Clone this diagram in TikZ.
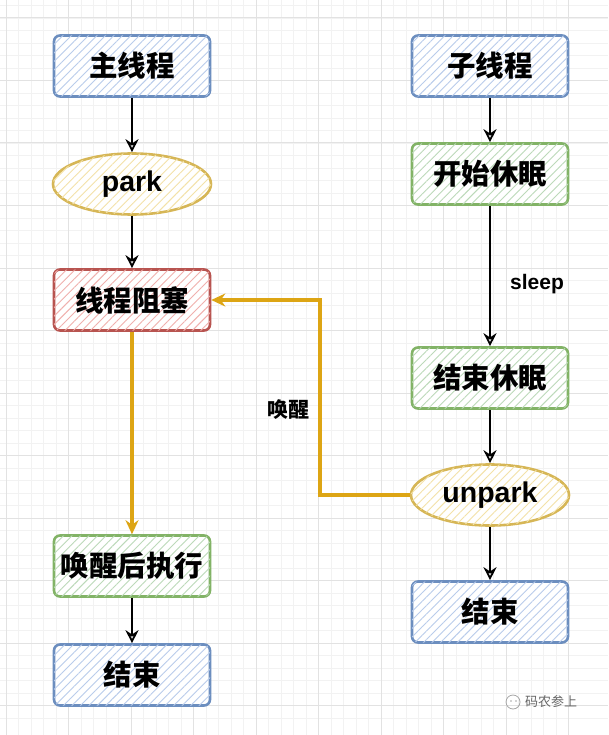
\documentclass[tikz,border=0pt]{standalone}
\usepackage{fontspec}
\setmainfont{Liberation Sans}
\newfontfamily\cjk{Noto Sans CJK SC}
\usetikzlibrary{shapes.geometric,patterns.meta,arrows.meta}
\definecolor{blues}{HTML}{6C8EBF}\definecolor{blueh}{HTML}{B9CCEB}
\definecolor{greens}{HTML}{82B366}\definecolor{greenh}{HTML}{BCD9B9}
\definecolor{reds}{HTML}{B85450}\definecolor{redh}{HTML}{F0B0AD}
\definecolor{yels}{HTML}{D6B656}\definecolor{yelh}{HTML}{F3E2A8}
\definecolor{orng}{RGB}{221,165,20}
\definecolor{gminor}{HTML}{F2F2F2}\definecolor{gmajor}{HTML}{E2E2E2}
\tikzset{
  x=1pt,y=-1pt,
  lbl/.style={font=\cjk\bfseries\fontsize{28.5}{32}\selectfont},
  boxbase/.style={rounded corners=6pt,line width=2.6pt,minimum width=156pt,minimum height=61pt,inner sep=0pt,lbl},
  bluebox/.style={boxbase,draw=blues,fill=white,postaction={pattern={Lines[angle=45,distance=6pt,line width=0.9pt]},pattern color=blueh}},
  greenbox/.style={boxbase,draw=greens,fill=white,postaction={pattern={Lines[angle=45,distance=6pt,line width=0.9pt]},pattern color=greenh}},
  redbox/.style={boxbase,draw=reds,fill=white,postaction={pattern={Lines[angle=45,distance=6pt,line width=0.9pt]},pattern color=redh}},
  yelell/.style={ellipse,line width=2.6pt,draw=yels,fill=white,minimum width=158pt,minimum height=61pt,inner sep=0pt,
    postaction={pattern={Lines[angle=45,distance=6pt,line width=0.9pt]},pattern color=yelh},
    font=\bfseries\fontsize{28.5}{32}\selectfont},
  blk/.style={line width=2.2pt,black,-{Stealth[open,length=13pt,width=13pt,line width=1.8pt]}},
  org/.style={line width=3.5pt,orng,-{Stealth[length=14pt,width=13pt]}},
  small/.style={font=\bfseries\fontsize{21}{24}\selectfont}
}
\begin{document}
\begin{tikzpicture}
\useasboundingbox (0,0) rectangle (608,735);
\fill[white] (0,0) rectangle (608,735);
% grid
\foreach \i in {0,...,48} {\draw[gminor,line width=0.7pt] ({6+12.5*\i-50},0) -- ({6+12.5*\i-50},735);}
\foreach \i in {0,...,60} {\draw[gminor,line width=0.7pt] (0,{18+12.5*\i-50}) -- (608,{18+12.5*\i-50});}
\foreach \i in {0,...,9} {\draw[gmajor,line width=1pt] ({6+62.5*\i},0) -- ({6+62.5*\i},735);}
\foreach \i in {0,...,11} {\draw[gmajor,line width=1pt] (0,{18+62.5*\i}) -- (608,{18+62.5*\i});}
% left column
\node[bluebox] (m1) at (132,66) {主线程};
\node[yelell] (p1) at (132,184) {park};
\node[redbox] (b1) at (132,300) {线程阻塞};
\node[greenbox] (w1) at (132,566) {唤醒后执行};
\node[bluebox] (e1) at (132,675) {结束};
% right column
\node[bluebox] (m2) at (490,66) {子线程};
\node[greenbox] (s2) at (490,174) {开始休眠};
\node[greenbox] (f2) at (490,378) {结束休眠};
\node[yelell] (u2) at (490,495) {unpark};
\node[bluebox] (e2) at (490,612) {结束};
% black arrows
\draw[blk] (m1) -- (p1);
\draw[blk] (p1) -- (b1);
\draw[blk] (w1) -- (e1);
\draw[blk] (m2) -- (s2);
\draw[blk] (s2) -- (f2);
\draw[blk] (f2) -- (u2);
\draw[blk] (u2) -- (e2);
\node[small] (sl) at (537,284) {sleep};
% orange arrows
\draw[org] (b1) -- (w1);
\coordinate (k1) at (320,495);
\draw[org] (u2.west) -- (k1) |- (b1.east);
\node[small,font=\cjk\bfseries\fontsize{21}{24}\selectfont] (hx) at (288,410) {唤醒};
% watermark
\draw[gray!70,line width=0.8pt] (513,702) circle (7);
\fill[gray!70] (511,701) circle (0.9) (516,701) circle (0.9);
\node[gray!80!black,font=\cjk\fontsize{13}{15}\selectfont] (wm) at (551,702) {码农参上};
\end{tikzpicture}
\end{document}
